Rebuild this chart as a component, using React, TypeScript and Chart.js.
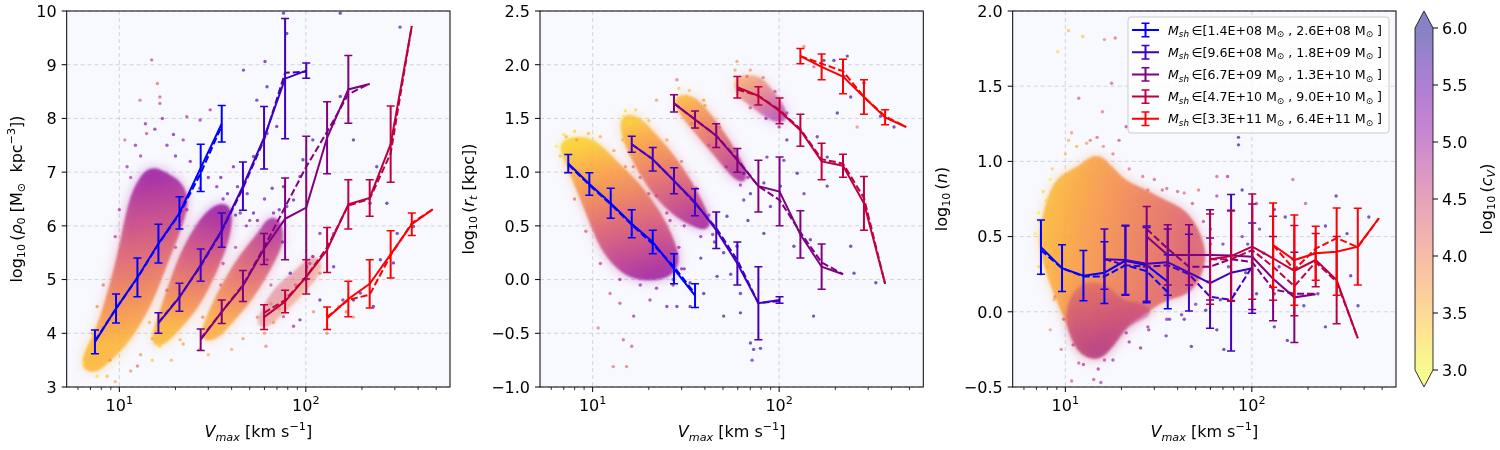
import React, { useEffect, useRef } from "react";
import { Chart, registerables } from "chart.js";

Chart.register(...registerables);

const FONT = '"DejaVu Sans", sans-serif';

// Vmax bin centres shared by all panels [km/s]
const vmaxBins = [7.4, 9.6, 12.5, 16.2, 21.0, 27.3, 35.4, 46.0, 59.7, 77.4, 100.5, 130, 169, 220, 285, 370, 480];
// index of the first Vmax bin used by each subhalo-mass bin
const binStart = [0, 3, 5, 8, 11];
const binColors = ["rgb(0,0,255)", "rgb(64,0,191)", "rgb(128,0,128)", "rgb(191,0,64)", "rgb(255,0,0)"];
const binLow = ["1.4E+08", "9.6E+08", "6.7E+09", "4.7E+10", "3.3E+11"];
const binHigh = ["2.6E+08", "1.8E+09", "1.3E+10", "9.0E+10", "6.4E+11"];

const xTicks = [6, 7, 8, 9, 10, 20, 30, 40, 50, 60, 70, 80, 90, 100, 200, 300, 400, 500];
const xMajor = [10, 100];
const cbTicks = [3.0, 3.5, 4.0, 4.5, 5.0, 5.5, 6.0];

// ---- panel 1: log10 rho0 ----
const rhoTicks = [3, 4, 5, 6, 7, 8, 9, 10];
const rhoMean = [
  [3.84, 4.46, 5.04, 5.67, 6.24, 7.08, 7.9],
  [4.19, 4.67, 5.27, 5.92, 6.74, 7.64, 8.74, 8.89],
  [3.88, 4.4, 4.88, 5.57, 6.13, 6.34, 7.64, 8.54, 8.64],
  [4.3, 4.59, 5.05, 5.55, 6.4, 6.52, 7.52, 9.72],
  [4.28, 4.64, 4.92, 5.47, 6.03, 6.31],
];
const rhoMedian = [
  [3.86, 4.46, 5.03, 5.66, 6.22, 6.98, 7.86],
  [4.2, 4.68, 5.25, 5.9, 6.7, 7.6, 8.85, 8.87],
  [3.9, 4.4, 4.9, 5.6, 6.35, 7.1, 7.75, 8.45, 8.65],
  [4.38, 4.62, 5.05, 5.6, 6.38, 6.5, 7.35, 9.72],
  [4.3, 4.62, 4.72, 5.45, 6.05, 6.31],
];
const rhoErr = [
  [0.22, 0.27, 0.36, 0.36, 0.3, 0.44, 0.34],
  [0.19, 0.26, 0.3, 0.32, 0.45, 0.58, 1.12, 0.14],
  [0.2, 0.22, 0.29, 0.29, 0.76, 1.33, 0.67, 0.63, 0],
  [0.23, 0.21, 0.32, 0.42, 0.46, 0.34, 0.71, 0],
  [0.21, 0.33, 0.45, 0.44, 0.21, 0],
];
// dense parts of the scatter: outline [Vmax, y], c_V at two points, relative density
const rhoClouds = [
  { poly: [[6.4, 3.44], [7.9, 4.06], [9.3, 4.87], [10.5, 5.61], [11.4, 6.23], [12.4, 6.67], [14.6, 7.04], [17.9, 6.92], [21.2, 6.73], [22.5, 6.42], [20.3, 5.92], [17.2, 5.3], [14.7, 4.68], [12.4, 4.19], [10.4, 3.81], [8.8, 3.56], [7.3, 3.32]], g0: [16, 3.9], g1: [12, 6.9], c0: 3.5, c1: 5.0, dens: 1 },
  { poly: [[15.2, 3.81], [17.9, 4.56], [21.2, 5.3], [24.9, 5.8], [29.4, 6.17], [34.7, 6.36], [38.5, 6.29], [37.5, 5.8], [32, 5.18], [26, 4.56], [21.2, 4.19], [17.6, 3.88]], g0: [24, 4.0], g1: [30, 6.3], c0: 3.5, c1: 5.0, dens: 1 },
  { poly: [[28.2, 3.94], [31.9, 4.43], [37.7, 4.93], [46.2, 5.43], [56.9, 5.8], [67, 6.17], [74, 5.8], [64, 5.3], [50, 4.68], [39, 4.25], [32.5, 3.94]], g0: [40, 4.1], g1: [65, 6.1], c0: 3.6, c1: 4.9, dens: 0.95 },
  { poly: [[57, 4.25], [70, 4.8], [90, 5.1], [110, 5.4], [118, 5.2], [95, 4.8], [75, 4.45], [60, 4.15]], g0: [110, 4.6], g1: [70, 5.2], c0: 3.7, c1: 4.6, dens: 0.5 },
];
const rhoDots = [
  [60.4, 9.06, 5.6], [75.9, 9.96, 5.7], [79, 9.58, 5.8], [61.9, 8.59, 5.7], [54.6, 8.34, 5.6], [46.3, 8.9, 5.6],
  [61.9, 7.72, 5.8], [69.8, 7.85, 5.7], [52.4, 7.29, 5.6], [40.9, 7.1, 5.4], [43, 6.73, 5.5], [33.3, 6.73, 5.3],
  [30.7, 8.16, 5.0], [27.1, 7.97, 5.1], [23, 8.03, 4.8], [16.5, 8.28, 4.6], [16.5, 8.4, 4.5], [12.9, 8.34, 4.4],
  [14.9, 9.09, 4.6], [16, 8.65, 4.2], [10.7, 7.6, 4.3], [14, 7.72, 4.6], [8.9, 3.5, 3.9], [8.6, 3.2, 3.5],
  [7.6, 3.2, 3.2], [6.4, 3.45, 3.0], [7.3, 3.63, 3.2], [12.5, 3.39, 4.2], [16.5, 3.76, 3.3], [21.2, 3.88, 3.6],
  [27, 3.7, 3.6], [61.1, 3.76, 4.0], [75.9, 4.31, 4.6], [85.9, 4.13, 5.0], [93, 4.25, 5.6], [119, 4.62, 5.8],
  [129.7, 4.0, 4.0], [180, 4.62, 5.8], [196, 4.75, 5.8], [230, 4.5, 5.8], [180, 4.3, 3.8], [251, 5.37, 5.8],
  [295, 5.31, 5.8], [309, 5.86, 5.7], [378, 5.99, 5.8], [272, 6.42, 5.8], [221, 6.42, 5.7], [240, 7.1, 5.8],
  [180, 7.6, 5.8], [153, 8.41, 5.8], [153, 9.96, 5.8], [320, 9.7, 5.8], [141, 7.91, 5.7], [109, 7.6, 5.7],
  [93, 6.92, 5.6], [85.9, 6.48, 5.6], [75.9, 6.73, 5.8], [67.1, 6.24, 5.4], [119, 5.86, 5.4], [109, 5.43, 5.6],
  [101, 5.24, 5.0], [119, 5.12, 4.2], [141, 5.24, 5.6], [158, 4.62, 5.5], [141, 5.86, 5.2], [82.5, 5.12, 5.6],
  [62, 5.37, 5.0], [44.5, 6.24, 5.4], [52.4, 6.24, 5.6], [48.5, 6.6, 5.6], [79, 6.36, 5.6], [96.5, 7.23, 5.8],
  [18, 7.5, 5.2], [20, 7.3, 5.3], [24, 7.2, 5.4], [26, 6.9, 5.5], [13, 7.3, 5.0], [11.5, 6.9, 4.8], [22, 7.6, 5.0],
  [48, 6.0, 5.2], [55, 6.1, 5.4], [36, 6.5, 5.3], [65, 4.55, 4.0], [72, 4.45, 3.8], [80, 4.7, 4.2], [88, 4.9, 4.4],
  [100, 5.0, 4.6], [105, 5.3, 4.8], [60, 4.0, 3.8], [67, 4.2, 3.9], [130, 4.35, 3.6], [150, 4.5, 4.0],
  [165, 4.4, 4.2], [110, 4.4, 3.9],
  [9.5, 5.8, 4.8], [10, 6.3, 4.9], [11, 7.1, 5.0], [12.2, 7.5, 5.1], [13.8, 7.9, 5.2], [15.5, 7.8, 5.3],
  [17, 8.0, 5.2], [19.5, 7.7, 5.4], [8.2, 4.9, 4.2], [7.6, 4.5, 3.9], [7.2, 4.0, 3.6], [6.8, 3.7, 3.3],
  [13, 3.6, 3.8], [15, 3.9, 3.7], [11.5, 3.3, 3.9], [9.5, 3.1, 3.6], [14.5, 4.2, 3.6], [15, 3.5, 3.4],
  [18, 4.8, 4.3], [20, 5.6, 4.7], [23, 6.3, 5.0], [27, 6.7, 5.2], [30, 6.9, 5.4], [35, 6.9, 5.5],
  [38, 6.6, 5.6], [42, 6.2, 5.6], [36, 5.3, 4.8], [28, 4.3, 4.0], [22, 3.8, 3.8], [19, 3.5, 3.6],
  [27, 3.7, 3.5], [30, 3.6, 3.6], [35, 4.9, 4.3], [42, 5.6, 4.8], [50, 6.1, 5.2], [60, 6.5, 5.5],
  [66, 6.7, 5.6], [72, 6.3, 5.6], [75, 5.7, 5.4], [65, 4.9, 4.6], [55, 4.3, 4.0], [46, 3.9, 3.8], [40, 3.7, 3.7],
];

// ---- panel 2: log10 r_t ----
const rtTicks = [-1.0, -0.5, 0, 0.5, 1.0, 1.5, 2.0, 2.5];
const rtMean = [
  [1.08, 0.89, 0.71, 0.52, 0.35, 0.1, -0.15],
  [1.26, 1.12, 0.92, 0.72, 0.46, 0.15, -0.22, -0.19],
  [1.64, 1.49, 1.34, 1.11, 0.87, 0.82, 0.42, 0.12, 0.05],
  [1.79, 1.71, 1.57, 1.39, 1.1, 1.06, 0.71, -0.04],
  [2.08, 1.98, 1.89, 1.7, 1.51, 1.42],
];
const rtMedian = [
  [1.07, 0.88, 0.7, 0.51, 0.33, 0.12, -0.13],
  [1.26, 1.12, 0.92, 0.71, 0.48, 0.18, -0.22, -0.2],
  [1.64, 1.49, 1.34, 1.12, 0.87, 0.74, 0.44, 0.16, 0.05],
  [1.77, 1.71, 1.58, 1.4, 1.12, 1.08, 0.76, -0.04],
  [2.08, 2.01, 1.94, 1.7, 1.52, 1.42],
];
const rtErr = [
  [0.085, 0.105, 0.14, 0.13, 0.11, 0.14, 0.11],
  [0.075, 0.11, 0.12, 0.125, 0.17, 0.2, 0.34, 0.03],
  [0.08, 0.08, 0.11, 0.11, 0.24, 0.32, 0.22, 0.21, 0],
  [0.1, 0.085, 0.12, 0.15, 0.17, 0.107, 0.25, 0],
  [0.07, 0.12, 0.16, 0.16, 0.07, 0],
];
const rtClouds = [
  { poly: [[6.95, 1.27], [8.9, 1.3], [10.5, 1.24], [13.5, 1.05], [17.2, 0.87], [22.1, 0.62], [26, 0.37], [28.3, 0.15], [24, 0.03], [17.2, 0.03], [14, 0.12], [11.4, 0.31], [9.7, 0.62], [8.2, 0.93], [7.25, 1.15]], g0: [10, 1.3], g1: [17, -0.05], c0: 3.3, c1: 5.0, dens: 1 },
  { poly: [[14.6, 1.5], [17.2, 1.49], [20.3, 1.36], [26, 1.15], [33.3, 0.87], [39.4, 0.62], [41, 0.49], [34.8, 0.53], [28.3, 0.62], [22.1, 0.8], [17.9, 1.05], [15.2, 1.3]], g0: [20, 1.5], g1: [32, 0.4], c0: 3.4, c1: 5.0, dens: 1 },
  { poly: [[28.3, 1.69], [34.8, 1.67], [42.8, 1.49], [52.5, 1.27], [62, 1.05], [64.5, 0.93], [57, 0.99], [46.5, 1.18], [37.8, 1.36], [30.7, 1.55]], g0: [35, 1.75], g1: [58, 0.9], c0: 3.5, c1: 4.9, dens: 0.95 },
  { poly: [[59.4, 1.86], [76.2, 1.87], [86, 1.77], [101.6, 1.61], [106, 1.49], [89.8, 1.52], [73, 1.64], [62, 1.73]], g0: [70, 1.9], g1: [100, 1.45], c0: 3.8, c1: 5.1, dens: 0.7 },
];
const rtDots = [
  [59.4, 2.03, 3.8], [67.3, 1.89, 4.2], [135.8, 2.17, 4.0], [153.6, 1.98, 4.5], [173.8, 2.04, 5.8], [196.7, 2.04, 5.8],
  [232, 2.08, 5.8], [222.8, 1.89, 5.8], [242, 1.7, 5.8], [285, 1.83, 5.8], [350, 1.52, 5.8], [413, 1.42, 5.8],
  [262, 1.42, 4.0], [205, 1.55, 5.8], [160, 1.33, 5.8], [181, 1.14, 5.8], [125, 0.99, 5.8], [136, 0.8, 5.6],
  [181, 0.87, 5.8], [147, 0.37, 5.8], [120, 0.31, 5.8], [242, 0.31, 5.8], [252, 0.06, 5.8], [330, -0.03, 5.8],
  [153, -0.34, 5.8], [101.6, 0.87, 5.8], [89.8, 0.68, 5.6], [82.8, 0.43, 5.8], [70.2, 0.8, 5.8], [64.6, 0.74, 5.6],
  [52.5, 0.59, 5.8], [50.4, 0.25, 5.8], [59.4, 0.31, 5.8], [46.5, 0.03, 5.8], [62, -0.13, 5.8], [50.4, -0.34, 5.8],
  [70.2, -0.59, 5.8], [73, -0.65, 5.8], [79.4, -0.64, 5.8], [71.6, -0.75, 5.4], [62, -0.31, 5.8], [39.4, -0.13, 5.8],
  [33.3, -0.25, 5.8], [28.3, -0.25, 5.6], [25, -0.25, 5.4], [20.3, -0.19, 5.0], [16.6, -0.34, 5.0], [16.2, -0.62, 4.5],
  [14.6, -0.56, 4.5], [12.9, -0.81, 4.2], [15.2, -0.81, 4.2], [10.7, -0.45, 4.2], [14, -0.22, 4.6], [12.4, -0.13, 4.4],
  [6.4, 1.24, 3.0], [7.2, 1.33, 3.6], [8.2, 1.3, 3.8], [14.6, 1.52, 3.0], [15.9, 1.46, 3.2], [22, 1.67, 3.8],
  [28.3, 1.86, 4.2], [32, 1.7, 3.4], [39.4, 1.67, 3.8], [33.3, -0.03, 5.6], [64.6, 0.99, 5.6], [82.8, 0.9, 5.8],
  [86, 1.14, 5.6], [106, 1.11, 5.6], [110, 1.3, 5.8], [45, 0.35, 5.6], [38, 0.2, 5.8], [55, 0.05, 5.6],
  [31, 0.1, 5.4], [27, 0.0, 5.2], [68, 0.55, 5.8],
  [7, 1.35, 3.1], [8, 1.38, 3.3], [9.5, 1.36, 3.5], [11, 1.33, 3.6], [13, 1.2, 3.8], [15, 1.05, 4.0],
  [18, 0.95, 4.3], [22, 0.78, 4.6], [26, 0.55, 4.9], [29, 0.3, 5.2], [30, 0.1, 5.3], [27, -0.05, 5.3],
  [22, -0.08, 5.2], [18, -0.05, 5.1], [14, 0.0, 5.0], [11, 0.15, 4.8], [9.2, 0.45, 4.5], [8, 0.75, 4.2],
  [7.2, 1.0, 3.8], [6.7, 1.15, 3.4], [15, 1.57, 3.2], [17, 1.58, 3.3], [20, 1.48, 3.5], [25, 1.3, 3.8],
  [30, 1.1, 4.2], [36, 0.85, 4.6], [42, 0.6, 5.0], [44, 0.42, 5.3], [38, 0.4, 5.3], [31, 0.5, 5.1],
  [25, 0.62, 4.9], [20, 0.8, 4.6], [16.5, 1.05, 4.2], [14.5, 1.3, 3.6], [29, 1.78, 3.4], [33, 1.76, 3.5],
  [40, 1.62, 3.8], [48, 1.42, 4.2], [58, 1.2, 4.6], [68, 0.95, 5.0], [62, 0.88, 5.1], [52, 1.05, 4.9],
  [42, 1.25, 4.5], [34, 1.45, 4.0], [58, 1.95, 3.8], [70, 1.95, 3.9], [82, 1.88, 4.2], [95, 1.75, 4.6],
  [110, 1.55, 5.0], [100, 1.42, 5.2], [85, 1.5, 5.0], [70, 1.6, 4.6],
];

// ---- panel 3: log10 n ----
const nTicks = [-0.5, 0, 0.5, 1.0, 1.5, 2.0];
const nMean = [
  [0.43, 0.29, 0.24, 0.26, 0.34, 0.31, 0.2],
  [0.35, 0.345, 0.32, 0.33, 0.26, 0.19, 0.26, 0.29],
  [0.5, 0.378, 0.378, 0.378, 0.375, 0.366, 0.22, 0.096, 0.116],
  [0.35, 0.37, 0.433, 0.356, 0.273, 0.344, 0.211, -0.176],
  [0.444, 0.344, 0.389, 0.4, 0.433, 0.622],
];
const nMedian = [
  [0.41, 0.29, 0.235, 0.235, 0.31, 0.27, 0.13],
  [0.35, 0.31, 0.3, 0.31, 0.25, 0.1, 0.08, 0.3],
  [0.55, 0.42, 0.3, 0.3, 0.35, 0.33, 0.15, 0.12, 0.12],
  [0.35, 0.35, 0.41, 0.3, 0.17, 0.33, 0.2, -0.176],
  [0.444, 0.28, 0.42, 0.49, 0.43, 0.622],
];
const nErr = [
  [0.18, 0.155, 0.167, 0.205, 0.23, 0.25, 0.18],
  [0.2, 0.23, 0.25, 0.22, 0.255, 0.3, 0.52, 0.3],
  [0.2, 0.2, 0.2, 0.3, 0.3, 0.35, 0.28, 0.3, 0],
  [0.3, 0.3, 0.35, 0.28, 0.3, 0.177, 0.29, 0],
  [0.28, 0.3, 0.18, 0.29, 0.255, 0],
];
const nClouds = [
  { poly: [[7.6, 0.52], [8.3, 0.74], [9.4, 0.88], [12, 0.94], [14.7, 1.03], [17.4, 0.94], [20.5, 0.85], [26.2, 0.79], [33.5, 0.72], [43, 0.655], [50.7, 0.52], [55, 0.344], [46.6, 0.145], [33.5, 0.1], [26.2, 0.012], [20.5, -0.077], [17.4, -0.21], [14.7, -0.3], [12, -0.25], [10.9, -0.1], [9.4, 0.08], [8.3, 0.256], [7.7, 0.4]], g0: [8, 0.6], g1: [45, 0.4], c0: 3.5, c1: 4.3, dens: 1 },
  { poly: [[10.9, 0.08], [13, 0.18], [16.5, 0.15], [20, 0.05], [25, 0.03], [28, 0.0], [24, -0.04], [20.5, -0.09], [17.4, -0.22], [14.7, -0.3], [12, -0.25], [10.5, -0.08]], g0: [15, 0.18], g1: [15, -0.28], c0: 4.4, c1: 5.1, dens: 0.55 },
];
const nDots = [
  [10.4, 1.87, 3.4], [12.4, 1.83, 3.4], [16.2, 1.81, 4.0], [18.5, 1.82, 4.3], [9.1, 1.73, 3.2], [11.8, 1.42, 4.4],
  [15.8, 1.33, 4.2], [19.4, 1.14, 4.6], [21.2, 1.23, 4.8], [17.7, 1.52, 4.4], [8.3, 0.88, 3.0], [7.9, 0.74, 3.2],
  [6.9, 0.52, 3.0], [7.2, 0.66, 3.0], [10.4, 1.14, 3.6], [10.8, 1.19, 3.8], [13.6, 1.14, 4.2], [14.8, 1.16, 4.4],
  [27.7, 0.81, 4.2], [33.1, 0.81, 4.4], [43.4, 0.79, 4.2], [51.8, 0.81, 4.2], [64.9, 0.9, 4.5], [74.1, 0.9, 5.0],
  [84.8, 1.11, 5.8], [88.7, 0.81, 5.8], [106, 0.72, 4.8], [132, 0.68, 5.6], [151, 0.63, 5.8], [194, 0.72, 4.6],
  [248, 0.57, 5.8], [283, 0.77, 5.8], [324, 0.52, 5.8], [424, 0.63, 5.8], [371, 0.04, 5.8], [339, 0.24, 5.8],
  [248, -0.1, 5.8], [190, 0.04, 5.8], [155, -0.19, 5.8], [132, -0.1, 5.8], [132, 0.12, 5.6], [106, 0.12, 5.8],
  [92.7, 0.26, 5.8], [81, 0.12, 5.6], [67.8, 0.08, 5.8], [70.8, -0.25, 5.8], [64.9, -0.12, 5.8], [56.6, 0.01, 5.8],
  [47.4, -0.23, 5.8], [43.4, -0.05, 5.6], [36.2, -0.05, 5.4], [34.7, -0.16, 5.6], [25.3, -0.24, 5.2], [27.7, -0.1, 5.0],
  [21.2, -0.14, 5.0], [16.2, -0.32, 4.8], [14.2, -0.45, 4.6], [15.5, -0.47, 4.8], [10.8, -0.46, 4.4], [11.8, -0.34, 4.6],
  [9.5, -0.25, 4.2], [8.3, -0.12, 3.8], [8.7, 0.08, 3.6], [7.2, 0.3, 3.3], [84.8, 1.16, 5.8], [64.9, 0.77, 4.8],
  [166, 0.88, 4.4], [88.7, 0.5, 5.4], [116, 0.39, 5.6], [217, 0.39, 5.8], [166, 0.35, 5.6], [226, 0.12, 5.8],
  [60, 0.55, 5.2], [70, 0.45, 5.4], [75, 0.3, 5.6], [95, 0.45, 5.6], [110, 0.55, 5.4], [140, 0.3, 5.8],
  [7.3, 0.6, 3.2], [7.6, 0.8, 3.2], [8.5, 0.95, 3.3], [10, 1.05, 3.5], [11.5, 1.1, 3.6], [13, 1.12, 3.8],
  [16, 1.1, 4.0], [18, 1.05, 4.2], [22, 0.95, 4.2], [26, 0.9, 4.3], [30, 0.88, 4.4], [35, 0.82, 4.4],
  [40, 0.8, 4.5], [48, 0.72, 4.6], [55, 0.6, 4.7], [60, 0.45, 4.9], [58, 0.2, 5.1], [50, 0.05, 5.2],
  [42, -0.02, 5.3], [35, -0.05, 5.2], [28, -0.12, 5.2], [22, -0.2, 5.1], [18, -0.32, 5.0], [15, -0.38, 5.0],
  [12.5, -0.35, 4.9], [11, -0.22, 4.7], [9.8, -0.05, 4.4], [8.8, 0.1, 4.0], [8, 0.3, 3.6], [7.4, 0.25, 3.4],
];

const TOP = 11;
const BOTTOM = 387;
const X_MIN = 5.22;
const X_MAX = 593;

interface Seg { t: string; it?: boolean; sub?: boolean; sup?: boolean }

const plasma = [
  [13, 8, 135], [65, 4, 157], [106, 0, 168], [143, 13, 164], [177, 42, 144], [204, 71, 120],
  [225, 100, 98], [242, 132, 75], [252, 166, 54], [252, 206, 37], [240, 249, 33],
];

function plasmaR(c: number, a: number): string {
  const t = Math.min(1, Math.max(0, (6 - c) / 3)) * 10;
  const i = Math.min(9, Math.floor(t));
  const f = t - i;
  const p = plasma[i];
  const q = plasma[i + 1];
  const r = p.map((v, k) => Math.round(v + (q[k] - v) * f));
  return `rgba(${r[0]},${r[1]},${r[2]},${a})`;
}

function richText(ctx: CanvasRenderingContext2D, segs: Seg[], x: number, y: number, size: number, align: string) {
  const parts = segs.map((s) => {
    const fs = s.sub || s.sup ? size * 0.7 : size;
    const font = `${s.it ? "italic " : ""}${fs}px ${FONT}`;
    ctx.font = font;
    return { s, font, w: ctx.measureText(s.t).width };
  });
  const total = parts.reduce((a, p) => a + p.w, 0);
  let cx = align === "center" ? x - total / 2 : x;
  ctx.textAlign = "left";
  ctx.textBaseline = "alphabetic";
  for (const p of parts) {
    ctx.font = p.font;
    const dy = p.s.sub ? size * 0.22 : p.s.sup ? -size * 0.42 : 0;
    ctx.fillText(p.s.t, cx, y + dy);
    cx += p.w;
  }
  return total;
}

function rotatedText(ctx: CanvasRenderingContext2D, segs: Seg[], cx: number, cy: number, size: number) {
  ctx.save();
  ctx.translate(cx, cy);
  ctx.rotate(-Math.PI / 2);
  richText(ctx, segs, 0, size * 0.35, size, "center");
  ctx.restore();
}

const fmt = (v: number, dec: number) => (v < 0 ? "\u2212" : "") + Math.abs(v).toFixed(dec);

const xTitle: Seg[] = [{ t: "V", it: true }, { t: "max", it: true, sub: true }, { t: " [km s" }, { t: "\u22121", sup: true }, { t: "]" }];

function cloudPath(ctx: CanvasRenderingContext2D, chart: any, cloud: any) {
  const xs = chart.scales.x;
  const ys = chart.scales.y;
  const pts = cloud.poly.map((v: number[]) => [xs.getPixelForValue(v[0]), ys.getPixelForValue(v[1])]);
  const n = pts.length;
  const mid = (a: number[], b: number[]) => [(a[0] + b[0]) / 2, (a[1] + b[1]) / 2];
  ctx.beginPath();
  const m0 = mid(pts[n - 1], pts[0]);
  ctx.moveTo(m0[0], m0[1]);
  for (let i = 0; i < n; i++) {
    const m = mid(pts[i], pts[(i + 1) % n]);
    ctx.quadraticCurveTo(pts[i][0], pts[i][1], m[0], m[1]);
  }
  ctx.closePath();
}

function cloudGradient(ctx: CanvasRenderingContext2D, chart: any, cloud: any) {
  const xs = chart.scales.x;
  const ys = chart.scales.y;
  const g = ctx.createLinearGradient(
    xs.getPixelForValue(cloud.g0[0]), ys.getPixelForValue(cloud.g0[1]),
    xs.getPixelForValue(cloud.g1[0]), ys.getPixelForValue(cloud.g1[1])
  );
  for (let k = 0; k <= 10; k++) {
    g.addColorStop(k / 10, plasmaR(cloud.c0 + ((cloud.c1 - cloud.c0) * k) / 10, 1));
  }
  return g;
}

function drawCloud(ctx: CanvasRenderingContext2D, chart: any, cloud: any) {
  const off = document.createElement("canvas");
  off.width = chart.width;
  off.height = chart.height;
  const o = off.getContext("2d");
  if (!o) return;
  cloudPath(o, chart, cloud);
  const g = cloudGradient(o, chart, cloud);
  o.fillStyle = g;
  o.strokeStyle = g;
  o.lineWidth = 8;
  o.lineJoin = "round";
  o.fill();
  o.stroke();
  ctx.save();
  ctx.globalAlpha = 0.4 * cloud.dens;
  ctx.filter = "blur(6px)";
  ctx.drawImage(off, 0, 0, chart.width, chart.height);
  ctx.globalAlpha = 0.8 * cloud.dens;
  ctx.filter = "blur(1.2px)";
  ctx.drawImage(off, 0, 0, chart.width, chart.height);
  ctx.restore();
}

function panelPlugin(p: any) {
  return {
    id: "panelDecor",
    beforeDatasetsDraw(chart: any) {
      const { ctx, chartArea: a, scales } = chart;
      ctx.save();
      ctx.fillStyle = "#f8f8ff";
      ctx.fillRect(a.left, a.top, a.right - a.left, a.bottom - a.top);
      ctx.strokeStyle = "rgba(170,170,180,0.6)";
      ctx.lineWidth = 0.8;
      ctx.setLineDash([4, 3]);
      for (const v of xMajor) {
        const px = scales.x.getPixelForValue(v);
        ctx.beginPath();
        ctx.moveTo(px, a.top);
        ctx.lineTo(px, a.bottom);
        ctx.stroke();
      }
      for (const v of p.yTicks) {
        const py = scales.y.getPixelForValue(v);
        ctx.beginPath();
        ctx.moveTo(a.left, py);
        ctx.lineTo(a.right, py);
        ctx.stroke();
      }
      ctx.setLineDash([]);
      ctx.beginPath();
      ctx.rect(a.left, a.top, a.right - a.left, a.bottom - a.top);
      ctx.clip();
      for (const c of p.clouds) drawCloud(ctx, chart, c);
      ctx.restore();
    },
    afterDatasetsDraw(chart: any) {
      const { ctx, scales } = chart;
      ctx.save();
      p.mean.forEach((row: number[], b: number) => {
        ctx.strokeStyle = binColors[b];
        row.forEach((m: number, k: number) => {
          const e = p.err[b][k];
          if (!e) return;
          const px = scales.x.getPixelForValue(vmaxBins[binStart[b] + k]);
          const y0 = scales.y.getPixelForValue(m + e);
          const y1 = scales.y.getPixelForValue(m - e);
          ctx.lineWidth = 2;
          ctx.beginPath();
          ctx.moveTo(px, y0);
          ctx.lineTo(px, y1);
          ctx.stroke();
          ctx.lineWidth = 1.5;
          ctx.beginPath();
          ctx.moveTo(px - 4, y0);
          ctx.lineTo(px + 4, y0);
          ctx.moveTo(px - 4, y1);
          ctx.lineTo(px + 4, y1);
          ctx.stroke();
        });
      });
      ctx.restore();
    },
    afterDraw(chart: any) {
      const { ctx, chartArea: a, scales } = chart;
      ctx.save();
      ctx.strokeStyle = "#000";
      ctx.fillStyle = "#000";
      ctx.lineWidth = 1;
      ctx.strokeRect(a.left, a.top, a.right - a.left, a.bottom - a.top);
      for (const v of p.yTicks) {
        const py = scales.y.getPixelForValue(v);
        ctx.beginPath();
        ctx.moveTo(a.left - 5, py);
        ctx.lineTo(a.left, py);
        ctx.stroke();
        ctx.textAlign = "right";
        ctx.textBaseline = "alphabetic";
        ctx.font = `16px ${FONT}`;
        ctx.fillText(fmt(v, p.yDec), a.left - 10, py + 5.8);
      }
      for (const v of xTicks) {
        const px = scales.x.getPixelForValue(v);
        const major = xMajor.includes(v);
        ctx.lineWidth = major ? 1 : 0.8;
        ctx.beginPath();
        ctx.moveTo(px, a.bottom);
        ctx.lineTo(px, a.bottom + (major ? 5 : 3));
        ctx.stroke();
        if (major) {
          richText(ctx, [{ t: "10" }, { t: String(Math.round(Math.log10(v))), sup: true }], px, 410.5, 16, "center");
        }
      }
      richText(ctx, xTitle, (a.left + a.right) / 2, 437, 16, "center");
      rotatedText(ctx, p.yTitle, p.yTitleX, (a.top + a.bottom) / 2, 16);
      if (p.legend) drawLegend(ctx);
      ctx.restore();
    },
  };
}

function drawLegend(ctx: CanvasRenderingContext2D) {
  ctx.save();
  ctx.beginPath();
  ctx.roundRect(1128, 17, 261, 116, 3);
  ctx.fillStyle = "rgba(255,255,255,0.8)";
  ctx.fill();
  ctx.strokeStyle = "#cccccc";
  ctx.lineWidth = 1;
  ctx.stroke();
  binColors.forEach((col, i) => {
    const cy = 30 + i * 22.2;
    ctx.strokeStyle = col;
    ctx.lineWidth = 2;
    ctx.beginPath();
    ctx.moveTo(1132, cy);
    ctx.lineTo(1159, cy);
    ctx.moveTo(1145.5, cy - 6.7);
    ctx.lineTo(1145.5, cy + 6.7);
    ctx.stroke();
    ctx.lineWidth = 1.5;
    ctx.beginPath();
    ctx.moveTo(1141.5, cy - 6.7);
    ctx.lineTo(1149.5, cy - 6.7);
    ctx.moveTo(1141.5, cy + 6.7);
    ctx.lineTo(1149.5, cy + 6.7);
    ctx.stroke();
    ctx.fillStyle = "#000";
    richText(
      ctx,
      [
        { t: "M", it: true },
        { t: "sh", it: true, sub: true },
        { t: "\u2009\u2208[" + binLow[i] + " M" },
        { t: "\u2299", sub: true },
        { t: " , " + binHigh[i] + " M" },
        { t: "\u2299", sub: true },
        { t: " ]" },
      ],
      1168,
      cy + 4.5,
      12.6,
      "left"
    );
  });
  ctx.restore();
}

const panels = [
  {
    left: 66.7, right: 450, yMin: 3, yMax: 10, yTicks: rhoTicks, yDec: 0, yTitleX: 16,
    yTitle: [{ t: "log" }, { t: "10", sub: true }, { t: "\u2009(" }, { t: "\u03c1", it: true }, { t: "0", sub: true }, { t: " [M" }, { t: "\u2299", sub: true }, { t: "  kpc" }, { t: "\u22123", sup: true }, { t: "])" }],
    mean: rhoMean, median: rhoMedian, err: rhoErr, clouds: rhoClouds, dots: rhoDots,
  },
  {
    left: 540, right: 923.3, yMin: -1, yMax: 2.5, yTicks: rtTicks, yDec: 1, yTitleX: 468,
    yTitle: [{ t: "log" }, { t: "10", sub: true }, { t: "\u2009(" }, { t: "r", it: true }, { t: "t", it: true, sub: true }, { t: " [kpc])" }],
    mean: rtMean, median: rtMedian, err: rtErr, clouds: rtClouds, dots: rtDots,
  },
  {
    left: 1012.7, right: 1396, yMin: -0.5, yMax: 2.0, yTicks: nTicks, yDec: 1, yTitleX: 941, legend: true,
    yTitle: [{ t: "log" }, { t: "10", sub: true }, { t: "\u2009(" }, { t: "n", it: true }, { t: ")" }],
    mean: nMean, median: nMedian, err: nErr, clouds: nClouds, dots: nDots,
  },
];

function panelConfig(p: any): any {
  const datasets: any[] = [];
  p.mean.forEach((row: number[], b: number) => {
    datasets.push({
      data: row.map((v, k) => ({ x: vmaxBins[binStart[b] + k], y: v })),
      showLine: true, borderColor: binColors[b], borderWidth: 2, pointRadius: 0, order: 20 - 2 * b,
    });
    datasets.push({
      data: p.median[b].map((v: number, k: number) => ({ x: vmaxBins[binStart[b] + k], y: v })),
      showLine: true, borderColor: binColors[b], borderWidth: 2, borderDash: [7, 3], pointRadius: 0, order: 21 - 2 * b,
    });
  });
  datasets.push({
    data: p.dots.map((d: number[]) => ({ x: d[0], y: d[1] })),
    pointRadius: 1.7, pointBorderWidth: 0,
    pointBackgroundColor: p.dots.map((d: number[]) => plasmaR(d[2], 0.65)),
    order: 100,
  });
  return {
    type: "scatter",
    data: { datasets },
    options: {
      responsive: false,
      animation: false,
      layout: { padding: { left: p.left, right: 1500 - p.right, top: TOP, bottom: 450 - BOTTOM } },
      scales: {
        x: { type: "logarithmic", min: X_MIN, max: X_MAX, display: false },
        y: { type: "linear", min: p.yMin, max: p.yMax, display: false },
      },
      plugins: { legend: { display: false }, tooltip: { enabled: false } },
    },
    plugins: [panelPlugin(p)],
  };
}

function cbGradient(chart: any, a: number) {
  const ys = chart.scales.y;
  const g = chart.ctx.createLinearGradient(0, ys.getPixelForValue(3), 0, ys.getPixelForValue(6));
  for (let k = 0; k <= 20; k++) g.addColorStop(k / 20, plasmaR(3 + (3 * k) / 20, a));
  return g;
}

function colorbarConfig(): any {
  const left = 1415;
  const right = 1433;
  const top = 28;
  const bottom = 370;
  return {
    type: "bar",
    data: {
      labels: ["cV"],
      datasets: [{
        data: [[cbTicks[0], cbTicks[cbTicks.length - 1]]],
        backgroundColor: (c: any) => (c.chart.chartArea ? cbGradient(c.chart, 0.5) : "#ccc"),
        borderWidth: 0, barPercentage: 1, categoryPercentage: 1,
      }],
    },
    options: {
      responsive: false,
      animation: false,
      layout: { padding: { left, right: 1500 - right, top, bottom: 450 - bottom } },
      scales: { x: { display: false }, y: { min: 3, max: 6, display: false } },
      plugins: { legend: { display: false }, tooltip: { enabled: false } },
    },
    plugins: [{
      id: "cbDecor",
      afterDraw(chart: any) {
        const { ctx, chartArea: a, scales } = chart;
        const cx = (a.left + a.right) / 2;
        ctx.save();
        ctx.fillStyle = plasmaR(6, 0.5);
        ctx.beginPath();
        ctx.moveTo(a.left, a.top);
        ctx.lineTo(a.right, a.top);
        ctx.lineTo(cx, a.top - 17);
        ctx.closePath();
        ctx.fill();
        ctx.fillStyle = plasmaR(3, 0.5);
        ctx.beginPath();
        ctx.moveTo(a.left, a.bottom);
        ctx.lineTo(a.right, a.bottom);
        ctx.lineTo(cx, a.bottom + 17);
        ctx.closePath();
        ctx.fill();
        ctx.strokeStyle = "#000";
        ctx.lineWidth = 0.8;
        ctx.beginPath();
        ctx.moveTo(cx, a.top - 17);
        ctx.lineTo(a.right, a.top);
        ctx.lineTo(a.right, a.bottom);
        ctx.lineTo(cx, a.bottom + 17);
        ctx.lineTo(a.left, a.bottom);
        ctx.lineTo(a.left, a.top);
        ctx.closePath();
        ctx.stroke();
        ctx.fillStyle = "#000";
        ctx.lineWidth = 1;
        for (const v of cbTicks) {
          const py = scales.y.getPixelForValue(v);
          ctx.beginPath();
          ctx.moveTo(a.right, py);
          ctx.lineTo(a.right + 5, py);
          ctx.stroke();
          ctx.font = `16px ${FONT}`;
          ctx.textAlign = "left";
          ctx.textBaseline = "alphabetic";
          ctx.fillText(v.toFixed(1), a.right + 9, py + 5.8);
        }
        rotatedText(ctx, [{ t: "log" }, { t: "10", sub: true }, { t: "\u2009(" }, { t: "c", it: true }, { t: "V", it: true, sub: true }, { t: ")" }], 1486, (a.top + a.bottom) / 2, 16);
        ctx.restore();
      },
    }],
  };
}

const App: React.FC = () => {
  const r0 = useRef<HTMLCanvasElement | null>(null);
  const r1 = useRef<HTMLCanvasElement | null>(null);
  const r2 = useRef<HTMLCanvasElement | null>(null);
  const r3 = useRef<HTMLCanvasElement | null>(null);
  const refs = [r0, r1, r2, r3];

  useEffect(() => {
    const charts: Chart[] = [];
    panels.forEach((p, i) => {
      const c = refs[i].current;
      if (c) charts.push(new Chart(c, panelConfig(p)));
    });
    if (r3.current) charts.push(new Chart(r3.current, colorbarConfig()));
    return () => {
      charts.forEach((c) => c.destroy());
    };
  }, []);

  return (
    <div style={{ position: "absolute", left: 0, top: 0, width: 1500, height: 450, background: "#fff" }}>
      {refs.map((r, i) => (
        <canvas key={i} ref={r} width={1500} height={450} style={{ position: "absolute", left: 0, top: 0 }} />
      ))}
    </div>
  );
};

export default App;
